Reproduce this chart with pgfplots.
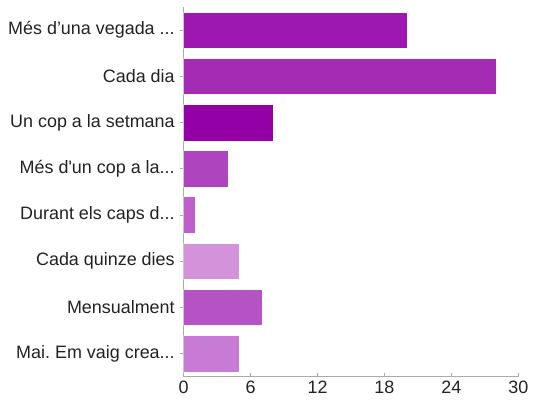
\documentclass[border=0pt]{standalone}
\usepackage{pgfplots}
\pgfplotsset{compat=1.18}
\usepackage{fontspec}
\setmainfont{Liberation Sans}
\frenchspacing

\definecolor{c1}{HTML}{9C18B0}
\definecolor{c2}{HTML}{A42BB4}
\definecolor{c3}{HTML}{9300A6}
\definecolor{c4}{HTML}{AE44BE}
\definecolor{c5}{HTML}{BF5FCC}
\definecolor{c6}{HTML}{D492DA}
\definecolor{c7}{HTML}{B553C4}
\definecolor{c8}{HTML}{C77BD4}
\definecolor{axisgray}{HTML}{AAAAAA}
\definecolor{txt}{HTML}{222222}
% three dots kept out of the foreach list
\def\ddd{...}

\begin{document}
\begin{tikzpicture}
\useasboundingbox (0,0) rectangle (534bp,400bp);
\begin{axis}[
    at={(183.7bp,23.3bp)}, anchor=south west,
    scale only axis,
    width=334.6bp, height=369.7bp,
    xbar, bar width=36.5bp,
    xmin=0, xmax=30,
    ymin=-0.5, ymax=7.5,
    y dir=reverse,
    xtick={0,6,12,18,24,30},
    ytick={0,1,2,3,4,5,6,7},
    yticklabels={{Més d’una vegada \ddd}, {Cada dia}, {Un cop a la setmana},
        {Més d\textquotesingle un cop a la\ddd}, {Durant els caps d\ddd},
        {Cada quinze dies}, {Mensualment}, {Mai. Em vaig crea\ddd}},
    axis x line*=bottom, axis y line*=left,
    axis line style={axisgray, line width=0.8bp, -},
    x tick style={axisgray, line width=0.8bp},
    y tick style={axisgray, line width=0.8bp},
    xtick align=inside, ytick align=outside,
    major tick length=4bp,
    tick label style={font=\fontsize{18}{21}\selectfont, text=txt},
    /pgf/number format/assume math mode=true,
    yticklabel style={xshift=-1.5bp},
    xticklabel style={yshift=-1bp},
    every axis plot/.append style={bar shift=0pt, draw=white, line width=0.5bp},
]
\addplot[fill=c1] coordinates {(20,0)};
\addplot[fill=c2] coordinates {(28,1)};
\addplot[fill=c3] coordinates {(8,2)};
\addplot[fill=c4] coordinates {(4,3)};
\addplot[fill=c5] coordinates {(1,4)};
\addplot[fill=c6] coordinates {(5,5)};
\addplot[fill=c7] coordinates {(7,6)};
\addplot[fill=c8] coordinates {(5,7)};
\end{axis}
\end{tikzpicture}
\end{document}
